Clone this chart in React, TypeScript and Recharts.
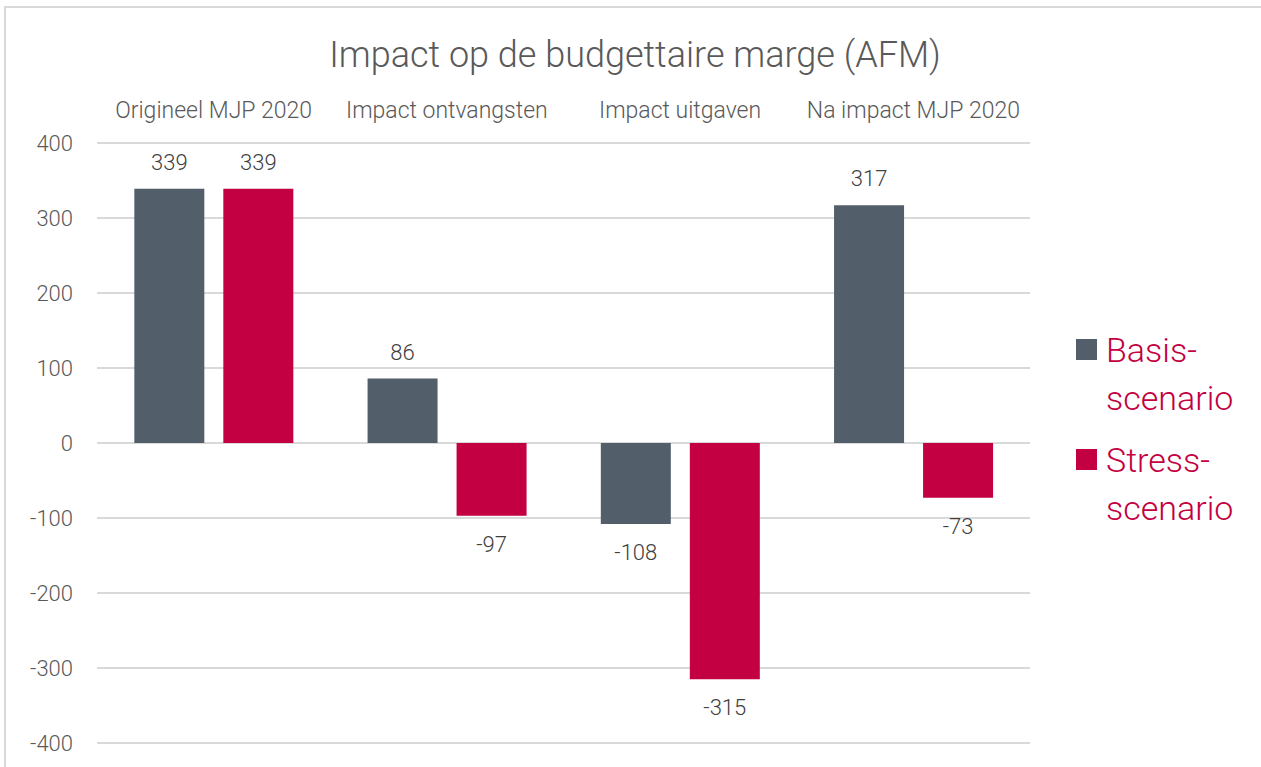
import React from 'react';
import { BarChart, Bar, XAxis, YAxis, CartesianGrid, LabelList } from 'recharts';

const categories = ['Origineel MJP 2020', 'Impact ontvangsten', 'Impact uitgaven', 'Na impact MJP 2020'];
const basisValues = [339, 86, -108, 317];
const stressValues = [339, -97, -315, -73];
const yTicks = [-400, -300, -200, -100, 0, 100, 200, 300, 400];
const seriesNames = ['Basis-\nscenario', 'Stress-\nscenario'];
const seriesColors = ['#525E6A', '#C30041'];
const title = 'Impact op de budgettaire marge (AFM)';

const data = categories.map((c, i) => ({ name: c, basis: basisValues[i], stress: stressValues[i] }));

const FONT = 'Roboto, "Open Sans", sans-serif';

const ValueLabel = (props: any) => {
  const { x, y, width, height, value } = props;
  const neg = Number(value) < 0;
  const cx = Number(x) + Number(width) / 2;
  const top = Math.min(Number(y), Number(y) + Number(height));
  const bottom = Math.max(Number(y), Number(y) + Number(height));
  const ty = neg ? bottom + 36 : top - 19;
  return (
    <text x={cx} y={ty} textAnchor="middle" fill="#404040" fontSize={22} fontWeight={300} fontFamily={FONT}>
      {value}
    </text>
  );
};

export default function App() {
  return (
    <div style={{ position: 'absolute', left: 0, top: 0, width: 1261, height: 767, background: '#fff', fontFamily: FONT, overflow: 'hidden' }}>
      <div style={{ position: 'absolute', left: 4, top: 6, width: 1300, height: 800, borderTop: '2px solid #d9d9d9', borderLeft: '2px solid #d9d9d9' }} />
      <div style={{ position: 'absolute', left: 0, top: 30, width: 1270, textAlign: 'center', fontSize: 36, fontWeight: 300, color: '#595959', lineHeight: '50px' }}>
        {title}
      </div>
      <div style={{ position: 'absolute', left: 0, top: 0 }}>
        <BarChart width={1261} height={767} data={data} margin={{ top: 103, right: 231, bottom: 24, left: 7 }} barCategoryGap="16%" barGap={19}>
          <CartesianGrid vertical={false} stroke="#d9d9d9" strokeWidth={2} />
          <XAxis dataKey="name" orientation="top" axisLine={false} tickLine={false} tickSize={0} tickMargin={25} height={40}
            tick={{ fill: '#595959', fontSize: 23, fontWeight: 300, fontFamily: FONT }} interval={0} />
          <YAxis domain={[-400, 400]} ticks={yTicks} axisLine={false} tickLine={false} tickSize={0} tickMargin={24} width={90}
            tick={{ fill: '#595959', fontSize: 22, fontWeight: 300, fontFamily: FONT }} />
          <Bar dataKey="basis" fill={seriesColors[0]} isAnimationActive={false}>
            <LabelList dataKey="basis" content={ValueLabel} />
          </Bar>
          <Bar dataKey="stress" fill={seriesColors[1]} isAnimationActive={false}>
            <LabelList dataKey="stress" content={ValueLabel} />
          </Bar>
        </BarChart>
      </div>
      <div style={{ position: 'absolute', left: 1076, top: 326 }}>
        {seriesNames.map((n, i) => (
          <div key={i} style={{ position: 'relative', height: 110 }}>
            <div style={{ position: 'absolute', left: 0, top: 13, width: 21, height: 21, background: seriesColors[i] }} />
            <div style={{ position: 'absolute', left: 30, top: 0, fontSize: 34, fontWeight: 300, color: '#C30041', lineHeight: '48px', whiteSpace: 'pre' }}>{n}</div>
          </div>
        ))}
      </div>
    </div>
  );
}
